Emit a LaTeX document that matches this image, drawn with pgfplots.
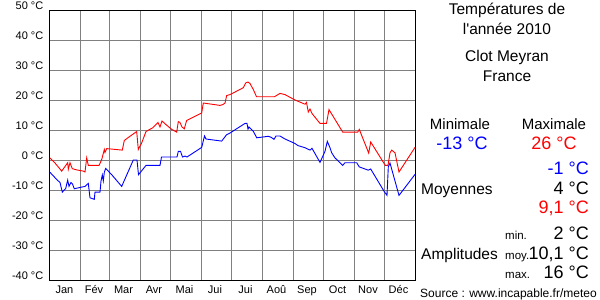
\documentclass[border=0pt]{standalone}
\usepackage{fontspec}
\setmainfont{Liberation Sans}
\usepackage{pgfplots}
\pgfplotsset{compat=1.18}
\definecolor{gridgray}{HTML}{808080}
\begin{document}
\begin{tikzpicture}[x=1pt,y=1pt]
\path[use as bounding box] (0,0) rectangle (600,300);
\begin{axis}[
  at={(50pt,20pt)}, anchor=south west,
  scale only axis, width=365pt, height=270pt,
  xmin=0, xmax=365, ymin=-40, ymax=50,
  xtick={0,31,59,90,120,151,181,212,243,273,304,334,365},
  x tick label as interval,
  xticklabels={Jan,Fév,Mar,Avr,Mai,Jui,Jui,Aoû,Sep,Oct,Nov,Déc},
  ytick={-40,-30,-20,-10,0,10,20,30,40,50},
  yticklabels={-40 °C,-30 °C,-20 °C,-10 °C,0 °C,10 °C,20 °C,30 °C,40 °C,50 °C},
  grid=major,
  major grid style={gridgray, line width=1pt},
  major tick length=0pt,
  axis line style={black, line width=1pt},
  tick label style={font=\fontsize{11}{13}\selectfont, inner sep=0pt},
  xticklabel style={anchor=base, yshift=-13pt, xshift=-1pt},
  yticklabel style={anchor=base east, xshift=-6.5pt, yshift=0.5pt},
]
\addplot[red, line width=0.9pt] coordinates {
(0,0.7) (5,-1) (11.7,-3.7) (17.7,-0.9) (18.3,-3.1) (20,-0.9) (22.3,-2.9)
(26.7,-3.3) (33.3,-3.7) (35,-4) (36.7,0.7) (38.3,-1.8) (49,-1.8) (51,-0.4)
(52,0.5) (54.3,3.5) (55,2.5) (56.7,3.8) (72.3,3.3) (74.3,6.5) (78.3,7.5)
(86.7,9.5) (88.3,3.5) (91.7,5.7) (96,9.5) (103,10.8) (108,12.5) (110,11)
(112,13) (116,11.8) (121.7,10.2) (126.7,9.3) (128.3,12.8) (130,12.5)
(132,11) (134.3,10.4) (136.7,13.2) (151.7,15.7) (153.3,19) (170,18.2)
(173,18.5) (175,19) (176.7,21.5) (180,21.8) (193.3,24.1) (195.7,25.7)
(198,26) (200,25.5) (203.3,23.5) (206.5,21.1) (224.5,21.1) (230,22.2)
(235,21.8) (245,20) (255,18.6) (256.5,19.2) (258.3,16) (260,17) (262,15.5)
(270,12.2) (276.5,12.2) (279,16.8) (292.7,9.3) (307.7,9.3) (309.3,10.2)
(318.7,2.3) (320.7,6) (335.3,-1.8) (338,-1.8) (340,2.4) (341.7,3.3)
(345,2.4) (349,-4) (365,4.2)
};
\addplot[blue, line width=0.9pt] coordinates {
(0,-4.1) (6.7,-6.5) (10,-7.5) (12.3,-10.7) (15.7,-9.5) (17.7,-6.7) (19,-8.8)
(21,-7.5) (22.5,-8) (24.3,-9.6) (28,-9.3) (35,-8.8) (38.3,-7.8) (40,-12.6)
(44.3,-13.1) (45,-10.7) (50,-10.7) (51,-7) (52.3,-5) (53.3,-7) (54.3,-4.1)
(55.7,-2.8) (61.7,-4.9) (71.7,-8.8) (83.3,0) (87,0) (88.5,-4.9) (96,-1.8)
(110,-1.8) (111.5,1) (127,1) (128.3,2.9) (130.5,2.9) (132.5,1) (135,1.3)
(137,1) (151.7,4.2) (154.5,8) (156,7) (171.7,6.3) (176.5,8.4) (180,9)
(195,12.2) (197,12.2) (198,10.3) (199,11) (203.3,9.6) (206.7,7.4)
(218.3,7.9) (221,7.6) (224,6.9) (226,8) (230,8) (235,7) (245,5.5)
(248,4.8) (255,4.1) (260,3.3) (262,3.9) (270,-0.8) (275,2.9) (277.3,6.2)
(280,4.1) (281.7,2.4) (285,0.7) (292.7,-1.8) (295,-0.9) (306.7,-0.9)
(309.3,-2.3) (318.3,-3.4) (320.7,-3) (334,-10.4) (337,-11.8) (338.3,-2.3)
(340,-1) (349,-11.8) (365,-4.8)
};
\end{axis}
% right panel
\begin{scope}[every node/.style={inner sep=0pt}]
\node[anchor=base, font=\fontsize{15.5}{17}\selectfont] at (507,285) {Températures de};
\node[anchor=base, font=\fontsize{15.5}{17}\selectfont] at (507,265) {l\textquotesingle année 2010};
\node[anchor=base, font=\fontsize{15.5}{17}\selectfont] at (507,238) {Clot Meyran};
\node[anchor=base, font=\fontsize{15.5}{17}\selectfont] at (507,218) {France};
\node[anchor=base, font=\fontsize{15}{17}\selectfont] at (460,170) {Minimale};
\node[anchor=base, font=\fontsize{15}{17}\selectfont] at (554,170) {Maximale};
\node[anchor=base, font=\fontsize{18}{20}\selectfont, text=blue] at (462,150) {-13 °C};
\node[anchor=base, font=\fontsize{18}{20}\selectfont, text=red] at (554,150) {26 °C};
\node[anchor=base east, font=\fontsize{18}{20}\selectfont, text=blue] at (589,125) {-1 °C};
\node[anchor=base west, font=\fontsize{15.5}{17}\selectfont] at (421,105) {Moyennes};
\node[anchor=base east, font=\fontsize{18}{20}\selectfont] at (589,105) {4 °C};
\node[anchor=base east, font=\fontsize{18}{20}\selectfont, text=red] at (589,86) {9,1 °C};
\node[anchor=base west, font=\fontsize{11.5}{13}\selectfont] at (505,60) {min.};
\node[anchor=base east, font=\fontsize{18}{20}\selectfont] at (589,60) {2 °C};
\node[anchor=base west, font=\fontsize{15.5}{17}\selectfont] at (421,40) {Amplitudes};
\node[anchor=base west, font=\fontsize{11.5}{13}\selectfont] at (505,40) {moy.};
\node[anchor=base east, font=\fontsize{18}{20}\selectfont] at (589,40) {10,1 °C};
\node[anchor=base west, font=\fontsize{11.5}{13}\selectfont] at (505,21) {max.};
\node[anchor=base east, font=\fontsize{18}{20}\selectfont] at (589,21) {16 °C};
\node[anchor=base west, font=\fontsize{12}{14}\selectfont] at (420,2.5) {Source : www.incapable.fr/meteo};
\end{scope}
\end{tikzpicture}
\end{document}
